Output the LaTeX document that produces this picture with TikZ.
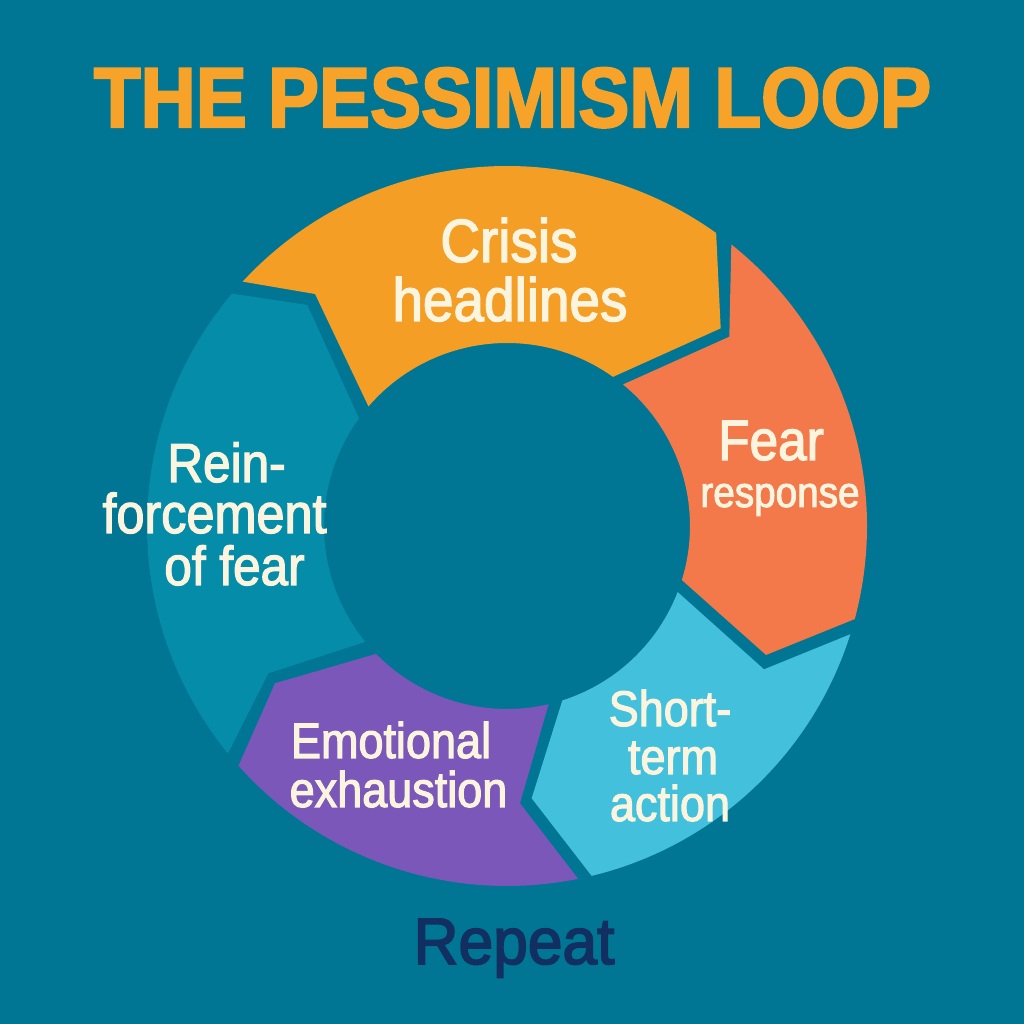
\documentclass[tikz,border=0pt]{standalone}
\usepackage{fontspec}
\usetikzlibrary{calc}
\newfontfamily\labfont{Liberation Sans}[FakeStretch=0.9,FakeBold=2.2]
\newfontfamily\titlefont{Liberation Sans Bold}[FakeStretch=0.9,FakeBold=2.5]
\newfontfamily\repfont{Liberation Sans}[FakeStretch=0.95,FakeBold=2.6]
\definecolor{bgc}{HTML}{007694}
\definecolor{tealseg}{HTML}{058CA8}
\definecolor{orangeseg}{HTML}{F59E26}
\definecolor{redseg}{HTML}{F3794A}
\definecolor{cyanseg}{HTML}{43C0DB}
\definecolor{purpleseg}{HTML}{7A57B8}
\definecolor{titlec}{HTML}{F7A228}
\definecolor{navyc}{HTML}{113061}
\definecolor{cream}{HTML}{FBF4DE}
\tikzset{
  lbl/.style={text=cream, inner sep=0pt, anchor=base},
}
\begin{document}
\begin{tikzpicture}[x=0.5pt,y=0.5pt]
\useasboundingbox (0,0) rectangle (1024,1024);
\fill[bgc] (0,0) rectangle (1024,1024);
\coordinate (O) at (507,498);
% Crisis headlines
\fill[orangeseg] ($(O)+(137.25:180pt)$) arc[start angle=137.25, end angle=54.48, radius=180pt]
  -- ($(O)+(42.77:145.55pt)$) -- ($(O)+(54.59:91.5pt)$)
  arc[start angle=54.59, end angle=139.2, radius=91.5pt]
  -- ($(O)+(129.6:150.55pt)$) -- cycle;
% Fear response
\fill[redseg] ($(O)+(51.45:180pt)$) arc[start angle=51.45, end angle=-14.98, radius=180pt]
  -- ($(O)+(-26.47:144.7pt)$) -- ($(O)+(-17.17:91.5pt)$)
  arc[start angle=-17.17, end angle=50.66, radius=91.5pt]
  -- ($(O)+(40.41:146pt)$) -- cycle;
% Short-term action
\fill[cyanseg] ($(O)+(-17.5:180pt)$) arc[start angle=-17.5, end angle=-76.4, radius=180pt]
  -- ($(O)+(-84.82:136.7pt)$) -- ($(O)+(-72.39:91.5pt)$)
  arc[start angle=-72.39, end angle=-21.16, radius=91.5pt]
  -- ($(O)+(-29.15:147.15pt)$) -- cycle;
% Emotional exhaustion
\fill[purpleseg] ($(O)+(-78.59:180pt)$) arc[start angle=-78.59, end angle=-138.24, radius=180pt]
  -- ($(O)+(-145.86:140.15pt)$) -- ($(O)+(-135.67:91.5pt)$)
  arc[start angle=-135.67, end angle=-76.84, radius=91.5pt]
  -- ($(O)+(-87.32:138.8pt)$) -- cycle;
% Reinforcement of fear
\fill[tealseg] ($(O)+(-140.83:180pt)$) arc[start angle=-140.83, end angle=-220.2, radius=180pt]
  -- ($(O)+(-227.9:148.95pt)$) -- ($(O)+(-216.03:91.5pt)$)
  arc[start angle=-216.03, end angle=-140.74, radius=91.5pt]
  -- ($(O)+(-148.32:140.25pt)$) -- cycle;
% title
\node[inner sep=0pt, anchor=base, text=titlec, font=\titlefont\fontsize{42.5}{50}\selectfont] (title) at (512.5,897) {THE PESSIMISM LOOP};
% labels
\node[lbl, font=\labfont\fontsize{30.5}{36}\selectfont] (crisisA) at (509,762) {Crisis};
\node[lbl, font=\labfont\fontsize{30.5}{36}\selectfont] (crisisB) at (510,703) {headlines};
\node[lbl, font=\labfont\fontsize{28.5}{34}\selectfont] (fearA) at (771,564) {Fear};
\node[lbl, font=\labfont\fontsize{21.5}{26}\selectfont] (fearB) at (780,517) {response};
\node[lbl, font=\labfont\fontsize{25}{30}\selectfont] (shortA) at (670,298) {Short-};
\node[lbl, font=\labfont\fontsize{25}{30}\selectfont] (shortB) at (673,250) {term};
\node[lbl, font=\labfont\fontsize{25}{30}\selectfont] (shortC) at (670,203) {action};
\node[lbl, font=\labfont\fontsize{25}{30}\selectfont] (emoA) at (391,266) {Emotional};
\node[lbl, font=\labfont\fontsize{25}{30}\selectfont] (emoB) at (398.5,217) {exhaustion};
\node[lbl, font=\labfont\fontsize{27.5}{33}\selectfont] (reinA) at (226.5,542) {Rein-};
\node[lbl, font=\labfont\fontsize{28}{33}\selectfont] (reinB) at (214.5,491) {forcement};
\node[lbl, font=\labfont\fontsize{27.5}{33}\selectfont] (reinC) at (234.5,439) {of fear};
% repeat
\node[inner sep=0pt, anchor=base, text=navyc, font=\repfont\fontsize{32.8}{39}\selectfont] (repeat) at (514,60) {Repeat};
\end{tikzpicture}
\end{document}
